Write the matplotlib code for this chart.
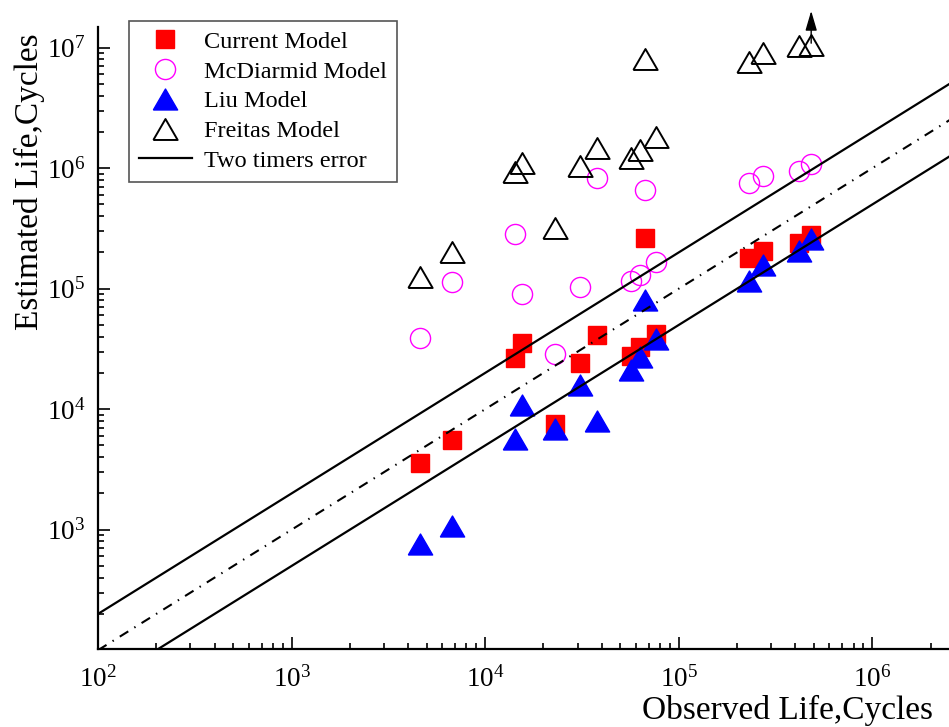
import matplotlib
matplotlib.use('Agg')
import matplotlib.pyplot as plt

plt.rcParams['font.family'] = ['Liberation Serif', 'DejaVu Serif']
plt.rcParams['mathtext.fontset'] = 'custom'
plt.rcParams['mathtext.rm'] = 'Liberation Serif'
plt.rcParams['mathtext.it'] = 'Liberation Serif:italic'

# observed life of the 15 specimens (cycles)
observed = [4605, 6761, 14260, 15450, 22950, 30780, 37680, 56650,
            63430, 66870, 76250, 230200, 272800, 417500, 483300]

# estimated life per model
current = [3573, 5560, 26450, 35220, 7540, 24040, 41020, 27780,
           32640, 261800, 42070, 178700, 205500, 239400, 279000]
mcdiarmid = [38750, 113000, 285900, 89890, 28570, 103300, 834100, 115800,
             130000, 659200, 167500, 758000, 861600, 953300, 1083000]
liu = [765, 1074, 5630, 10830, 6890, 15780, 7940, 21150,
       27280, 80170, 38250, 115800, 157300, 204300, 259500]
freitas = [125800, 200500, 925000, 1098000, 317000, 1043000, 1479000, 1222000,
           1416000, 8060000, 1825000, 7655000, 8990000, 10400000, 10500000]

# error band (factor of two) and 1:1 line
band_x = [1e2, 1e7]
band_factors = [2.0, 1.0, 0.5]

# arrow marking an out-of-range Freitas estimate
arrow_x = 483300
arrow_from, arrow_to = 1.09e7, 2.02e7

# slightly wide triangle, like the original
tri = [(-1.16, -1), (1.16, -1), (0, 1), (-1.16, -1)]

fig = plt.figure(figsize=(9.49, 7.27), dpi=100)
ax = fig.add_axes([0.1033, 0.1073, 0.8967, 0.8556])

ax.plot(observed, current, linestyle='none', marker='s', markersize=13,
        color='#ff0000', label='Current Model', zorder=3)
ax.plot(observed, mcdiarmid, linestyle='none', marker='o', markersize=14.5,
        markerfacecolor='none', markeredgecolor='#ff00ff', markeredgewidth=1.0,
        label='McDiarmid Model', zorder=3)
ax.plot(observed, liu, linestyle='none', marker=tri, markersize=17.5,
        color='#0000ff', label='Liu Model', zorder=3)
ax.plot(observed, freitas, linestyle='none', marker=tri, markersize=17.5,
        markerfacecolor='none', markeredgecolor='black', markeredgewidth=1.4,
        label='Freitas Model', zorder=3)

for f in band_factors:
    ys = [f * v for v in band_x]
    if f == 1.0:
        ax.plot(band_x, ys, color='black', lw=1.5,
                linestyle=(0, (4.8, 3.4, 0.7, 3.4)), zorder=4)
    elif f > 1:
        ax.plot(band_x, ys, color='black', lw=1.6, label='Two timers error', zorder=4)
    else:
        ax.plot(band_x, ys, color='black', lw=1.6, zorder=4)

ax.annotate('', xy=(arrow_x, arrow_to), xytext=(arrow_x, arrow_from),
            arrowprops=dict(arrowstyle='-|>,head_length=0.75,head_width=0.22',
                            color='black', lw=1.0, mutation_scale=16,
                            shrinkA=0, shrinkB=0),
            annotation_clip=False)

ax.set_xscale('log')
ax.set_yscale('log')
ax.set_xlim(1e2, 2.49e6)
ax.set_ylim(102.3, 1.486e7)

for s in ['top', 'right']:
    ax.spines[s].set_visible(False)
for s in ['left', 'bottom']:
    ax.spines[s].set_linewidth(1.6)

ax.tick_params(which='both', direction='in', width=1.2, labelsize=19.5)
ax.tick_params(axis='x', pad=12)
ax.tick_params(axis='y', pad=9)
ax.tick_params(which='major', length=8.5)
ax.tick_params(which='minor', length=4.5)

ax.set_xlabel('Observed Life,Cycles', fontsize=24, ha='right')
ax.xaxis.set_label_coords(0.981, -0.074)
ax.set_ylabel('Estimated Life,Cycles', fontsize=24, ha='right')
ax.yaxis.set_label_coords(-0.062, 0.99)

leg = ax.legend(loc='upper left', bbox_to_anchor=(0.0364, 1.0096), borderaxespad=0,
                fontsize=17.5, numpoints=1, fancybox=False, edgecolor='#555555',
                framealpha=1, labelspacing=0.32, handlelength=2.2,
                handletextpad=0.5, borderpad=0.4)
leg.get_frame().set_linewidth(1.2)

fig.savefig('out.png', dpi=100)
